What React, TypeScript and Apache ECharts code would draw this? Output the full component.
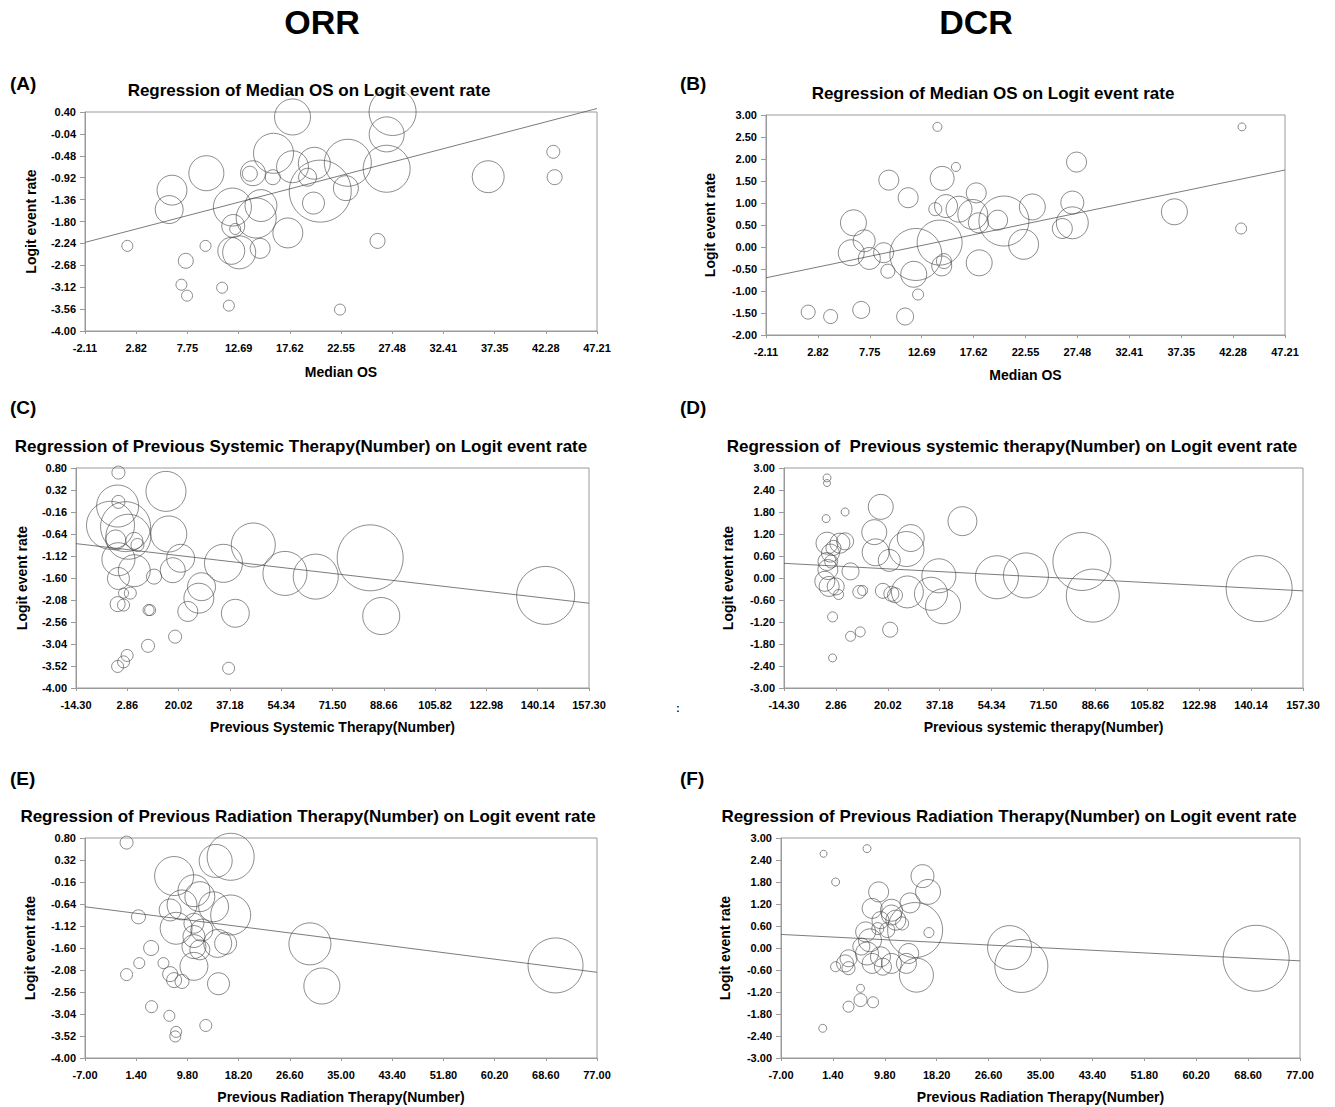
import React, { useEffect, useRef } from "react";
import * as echarts from "echarts";

const FONT = "'Liberation Sans', Arial, Helvetica, sans-serif";

// ---------- tick labels ----------
const xTicksOS = [-2.11, 2.82, 7.75, 12.69, 17.62, 22.55, 27.48, 32.41, 37.35, 42.28, 47.21];
const xTicksSys = [-14.3, 2.86, 20.02, 37.18, 54.34, 71.5, 88.66, 105.82, 122.98, 140.14, 157.3];
const xTicksRad = [-7, 1.4, 9.8, 18.2, 26.6, 35, 43.4, 51.8, 60.2, 68.6, 77];
const yTicksORR_A = [-4, -3.56, -3.12, -2.68, -2.24, -1.8, -1.36, -0.92, -0.48, -0.04, 0.4];
const yTicksORR = [-4, -3.52, -3.04, -2.56, -2.08, -1.6, -1.12, -0.64, -0.16, 0.32, 0.8];
const yTicksDCR_B = [-2, -1.5, -1, -0.5, 0, 0.5, 1, 1.5, 2, 2.5, 3];
const yTicksDCR = [-3, -2.4, -1.8, -1.2, -0.6, 0, 0.6, 1.2, 1.8, 2.4, 3];

// ---------- Panel A: ORR vs Median OS ----------
const aX = [1.97, 7.6, 7.18, 7.72, 9.5, 11.1, 11.75, 12.36, 22.45, 26.07, 43.0, 43.13, 36.73, 6.27, 6.0, 9.58, 12.09, 12.17, 11.98, 12.74, 14.38, 14.84, 14.76, 14.07, 13.77, 15.98, 16.05, 17.88, 17.88, 17.43, 19.33, 19.98, 19.9, 20.55, 23.02, 23.21, 26.95, 26.95, 27.52];
const aY = [-2.29, -2.59, -3.07, -3.29, -2.29, -3.13, -3.49, -1.95, -3.57, -2.19, -0.4, -0.91, -0.9, -1.17, -1.56, -0.83, -1.51, -1.89, -2.39, -2.42, -1.73, -1.48, -2.34, -0.83, -0.84, -0.91, -0.43, 0.3, -0.7, -2.03, -0.91, -0.63, -1.43, -1.19, -1.13, -0.62, -0.74, -0.05, 0.4];
const aW = [11, 15, 11, 11, 11, 11, 11, 11, 11, 15, 13, 15, 32, 30, 28, 35, 38, 23, 27, 33, 40, 32, 20, 25, 15, 15, 40, 36, 32, 30, 18, 32, 22, 62, 25, 47, 47, 35, 47];
const aLine = [[-2.11, -2.22], [47.21, 0.47]];

// ---------- Panel B: DCR vs Median OS ----------
const bX = [14.18, 43.12, 15.94, 27.4, 9.56, 14.63, 11.4, 17.87, 15.0, 13.98, 36.7, 27.0, 27.0, 26.05, 23.2, 20.5, 19.9, 17.54, 18.07, 16.23, 22.37, 18.15, 6.2, 7.22, 5.99, 7.71, 9.07, 9.47, 12.13, 14.39, 11.93, 14.59, 14.8, 12.34, 1.9, 4.03, 6.94, 11.11, 43.04];
const bY = [2.73, 2.73, 1.82, 1.93, 1.52, 1.56, 1.12, 1.23, 0.93, 0.86, 0.8, 1.01, 0.55, 0.42, 0.91, 0.59, 0.61, 0.74, 0.55, 0.86, 0.06, -0.36, 0.55, 0.14, -0.13, -0.26, -0.13, -0.55, -0.17, 0.1, -0.62, -0.43, -0.32, -1.08, -1.48, -1.58, -1.43, -1.58, 0.42];
const bW = [9, 8, 9, 20, 20, 24, 20, 20, 23, 13, 26, 23, 32, 20, 26, 50, 20, 30, 20, 26, 30, 26, 26, 22, 26, 22, 20, 14, 52, 45, 26, 20, 15, 11, 14, 14, 17, 17, 11];
const bLine = [[-2.11, -0.7], [47.21, 1.75]];

// ---------- Panel C: ORR vs previous systemic therapy ----------
const cX = [-0.11, 15.8, -0.11, -0.38, -2.76, 2.28, -1.04, 3.2, 5.2, 6.25, 16.73, -0.11, -0.11, 5.2, 11.8, 18.06, 20.7, 35.03, 45.0, 55.6, 65.9, 84.1, 142.8, 87.8, 39.0, 27.7, 26.8, 23.1, 18.85, 9.8, 10.5, 9.97, 3.87, 1.6, -0.38, 1.6, 2.8, 1.6, -0.38, 36.75];
const cY = [0.7, 0.29, 0.06, -0.03, -0.45, -0.48, -0.77, -0.7, -0.79, -0.88, -0.64, -1.19, -1.61, -1.44, -1.57, -1.43, -1.17, -1.28, -0.88, -1.5, -1.57, -1.16, -1.98, -2.43, -2.37, -1.79, -2.04, -2.33, -2.88, -3.08, -2.3, -2.3, -1.93, -1.93, -2.17, -2.19, -3.29, -3.43, -3.53, -3.57];
const cW = [13, 40, 13, 42, 48, 50, 20, 45, 17, 13, 36, 33, 22, 32, 15, 25, 28, 38, 44, 44, 45, 66, 58, 37, 28, 28, 30, 20, 13, 13, 11, 11, 12, 10, 15, 12, 12, 12, 12, 12];
const cLine = [[-14.3, -0.85], [157.3, -2.15]];

// ---------- Panel D: DCR vs previous systemic therapy ----------
const dX = [-0.08, -0.08, -0.37, 5.9, 17.69, 44.7, 15.55, 27.6, 26.2, 16.0, 20.5, 36.9, 56.1, 65.7, 84.2, 87.8, 142.8, 38.3, 34.3, 26.5, 21.2, 18.4, 22.4, 10.6, 11.7, 1.76, 7.7, 10.9, 20.8, 1.76, -0.08, 1.05, 4.18, 5.9, 2.05, -0.08, 0.2, -0.8, 0.63, 2.8, 3.75, 7.7, 1.3];
const dY = [2.73, 2.59, 1.62, 1.8, 1.94, 1.55, 1.25, 1.09, 0.79, 0.7, 0.48, 0.06, 0.02, 0.07, 0.45, -0.48, -0.29, -0.77, -0.43, -0.38, -0.43, -0.35, -0.47, -0.38, -0.34, -1.06, -1.59, -1.47, -1.41, -2.18, 0.95, 0.68, 0.95, 1.0, 0.82, 0.45, 0.23, -0.09, -0.23, -0.23, -0.45, 0.18, 0.45];
const dW = [8, 7, 8, 8, 25, 29, 25, 27, 35, 27, 22, 34, 43, 45, 58, 53, 66, 35, 33, 32, 15, 15, 15, 13, 10, 10, 10, 10, 15, 8, 22, 18, 20, 17, 15, 18, 20, 20, 20, 17, 10, 17, 13];
const dLine = [[-14.3, 0.4], [157.3, -0.35]];

// ---------- Panel E: ORR vs previous radiation therapy ----------
const eX = [-0.18, 16.9, 14.44, 7.62, 10.87, 11.84, 8.92, 6.97, 16.9, 14.1, 1.77, 7.95, 10.87, 12.17, 10.87, 10.87, 11.84, 14.77, 16.07, 29.9, 70.2, 31.86, 14.9, 10.87, 3.85, 1.9, -0.18, 5.87, 6.97, 7.62, 8.92, 3.92, 6.84, 12.82, 7.95, 7.81];
const eY = [0.7, 0.39, 0.3, -0.03, -0.35, -0.48, -0.66, -0.77, -0.88, -0.7, -0.92, -1.17, -1.06, -1.21, -1.35, -1.57, -1.64, -1.5, -1.5, -1.51, -1.98, -2.43, -2.38, -2.0, -1.6, -1.93, -2.18, -1.93, -2.17, -2.3, -2.33, -2.88, -3.08, -3.29, -3.43, -3.53];
const eW = [13, 47, 33, 39, 32, 30, 30, 22, 40, 30, 14, 32, 20, 22, 22, 24, 20, 28, 22, 42, 55, 36, 22, 28, 15, 11, 12, 11, 15, 15, 14, 12, 11, 12, 11, 11];
const eLine = [[-7, -0.7], [77, -2.13]];

// ---------- Panel F: DCR vs previous radiation therapy ----------
const fX = [-0.11, 6.92, 1.84, -0.25, 15.9, 16.8, 8.8, 13.88, 7.75, 10.88, 10.88, 14.71, 16.94, 30.0, 31.9, 69.9, 14.92, 13.3, 10.88, 7.75, 6.92, 9.1, 3.93, 3.37, 1.84, 3.93, 5.87, 5.87, 3.93, 7.9, 6.7, 7.4, 6.0, 9.1, 10.2, 11.58, 12.6, 8.66, 13.67, 9.5];
const fY = [2.57, 2.71, 1.8, -2.19, 1.96, 1.53, 1.53, 1.23, 1.08, 1.03, 0.9, 0.49, 0.42, 0.01, -0.49, -0.28, -0.74, -0.42, -0.42, -0.42, -0.15, -0.24, -0.28, -0.42, -0.51, -0.55, -1.1, -1.42, -1.6, -1.48, 0.44, 0.21, 0.04, 0.76, 0.49, 0.76, 0.67, 0.53, -0.15, -0.51];
const fW = [7, 8, 8, 8, 23, 25, 20, 20, 20, 22, 20, 55, 10, 44, 53, 66, 34, 20, 20, 20, 23, 20, 17, 17, 10, 13, 8, 13, 11, 11, 20, 23, 17, 17, 15, 20, 13, 12, 20, 17];
const fLine = [[-7, 0.37], [77, -0.35]];

const fmt = (v: number) => (Math.abs(v) < 1e-9 ? 0 : v).toFixed(2);

const AXIS_COLOR = "#9a9a9a";
const CIRCLE_COLOR = "#4a4a4a";

const panels = [
  { grid: { left: 85, top: 112, width: 512, height: 219 }, xt: xTicksOS, yt: yTicksORR_A, xs: aX, ys: aY, ws: aW, line: aLine, xName: "Median OS", xGap: 34, yGap: 47 },
  { grid: { left: 766, top: 115, width: 519, height: 220 }, xt: xTicksOS, yt: yTicksDCR_B, xs: bX, ys: bY, ws: bW, line: bLine, xName: "Median OS", xGap: 33, yGap: 49 },
  { grid: { left: 76, top: 468, width: 513, height: 220 }, xt: xTicksSys, yt: yTicksORR, xs: cX, ys: cY, ws: cW, line: cLine, xName: "Previous Systemic Therapy(Number)", xGap: 32, yGap: 47 },
  { grid: { left: 784, top: 468, width: 519, height: 220 }, xt: xTicksSys, yt: yTicksDCR, xs: dX, ys: dY, ws: dW, line: dLine, xName: "Previous systemic therapy(Number)", xGap: 32, yGap: 49 },
  { grid: { left: 85, top: 838, width: 512, height: 220 }, xt: xTicksRad, yt: yTicksORR, xs: eX, ys: eY, ws: eW, line: eLine, xName: "Previous Radiation Therapy(Number)", xGap: 32, yGap: 48 },
  { grid: { left: 781, top: 838, width: 519, height: 220 }, xt: xTicksRad, yt: yTicksDCR, xs: fX, ys: fY, ws: fW, line: fLine, xName: "Previous Radiation Therapy(Number)", xGap: 32, yGap: 49 },
];

const texts = [
  { t: "ORR", x: 322, y: 22, size: 34, align: "center" },
  { t: "DCR", x: 976, y: 22, size: 34, align: "center" },
  { t: "(A)", x: 10, y: 83, size: 19, align: "left" },
  { t: "(B)", x: 680, y: 83, size: 19, align: "left" },
  { t: "(C)", x: 10, y: 407, size: 19, align: "left" },
  { t: "(D)", x: 680, y: 407, size: 19, align: "left" },
  { t: "(E)", x: 10, y: 778, size: 19, align: "left" },
  { t: "(F)", x: 680, y: 778, size: 19, align: "left" },
  { t: "Regression of Median OS on Logit event rate", x: 309, y: 90, size: 17, align: "center" },
  { t: "Regression of Median OS on Logit event rate", x: 993, y: 93, size: 17, align: "center" },
  { t: "Regression of Previous Systemic Therapy(Number) on Logit event rate", x: 301, y: 446, size: 17, align: "center" },
  { t: "Regression of  Previous systemic therapy(Number) on Logit event rate", x: 1012, y: 446, size: 17, align: "center" },
  { t: "Regression of Previous Radiation Therapy(Number) on Logit event rate", x: 308, y: 816, size: 17, align: "center" },
  { t: "Regression of Previous Radiation Therapy(Number) on Logit event rate", x: 1009, y: 816, size: 17, align: "center" },
  { t: ":", x: 678, y: 708, size: 10, align: "center" },
];

export default function App() {
  const ref = useRef<HTMLDivElement>(null);
  useEffect(() => {
    if (!ref.current) return;
    const chart = echarts.init(ref.current, undefined, { renderer: "svg" });
    const grids: any[] = [];
    const xAxes: any[] = [];
    const yAxes: any[] = [];
    const series: any[] = [];
    panels.forEach((p, i) => {
      grids.push({ ...p.grid, show: true, borderColor: AXIS_COLOR, borderWidth: 1, backgroundColor: "transparent", containLabel: false });
      xAxes.push({
        gridIndex: i,
        type: "value",
        position: "bottom",
        min: p.xt[0],
        max: p.xt[p.xt.length - 1],
        name: p.xName,
        nameLocation: "middle",
        nameGap: p.xGap,
        nameTextStyle: { fontSize: 14, fontWeight: "bold", color: "#000", fontFamily: FONT },
        axisLine: { show: true, onZero: false, lineStyle: { color: AXIS_COLOR, width: 1 } },
        axisTick: { show: true, length: 3, lineStyle: { color: AXIS_COLOR }, customValues: p.xt },
        axisLabel: { customValues: p.xt, formatter: fmt, fontSize: 11, fontWeight: "bold", color: "#000", margin: 11, fontFamily: FONT },
        splitLine: { show: false },
      });
      yAxes.push({
        gridIndex: i,
        type: "value",
        position: "left",
        min: p.yt[0],
        max: p.yt[p.yt.length - 1],
        name: "Logit event rate",
        nameLocation: "middle",
        nameGap: p.yGap,
        nameTextStyle: { fontSize: 14, fontWeight: "bold", color: "#000", fontFamily: FONT },
        axisLine: { show: true, onZero: false, lineStyle: { color: AXIS_COLOR, width: 1 } },
        axisTick: { show: true, length: 5, lineStyle: { color: AXIS_COLOR }, customValues: p.yt },
        axisLabel: { customValues: p.yt, formatter: fmt, fontSize: 11, fontWeight: "bold", color: "#000", margin: 9, fontFamily: FONT },
        splitLine: { show: false },
      });
      series.push({
        type: "scatter",
        xAxisIndex: i,
        yAxisIndex: i,
        clip: false,
        symbol: "circle",
        symbolSize: (val: number[]) => val[2],
        data: p.xs.map((x, k) => [x, p.ys[k], p.ws[k]]),
        itemStyle: { color: "rgba(0,0,0,0)", borderColor: CIRCLE_COLOR, borderWidth: 0.8 },
        emphasis: { disabled: true },
        z: 3,
      });
      series.push({
        type: "line",
        xAxisIndex: i,
        yAxisIndex: i,
        clip: false,
        showSymbol: false,
        symbol: "none",
        data: p.line,
        lineStyle: { color: "#5a5a5a", width: 0.8 },
        emphasis: { disabled: true },
        silent: true,
        z: 2,
      });
    });
    chart.setOption({
      animation: false,
      backgroundColor: "#fff",
      textStyle: { fontFamily: FONT },
      grid: grids,
      xAxis: xAxes,
      yAxis: yAxes,
      series,
      graphic: texts.map((t) => ({
        type: "text",
        x: t.x,
        y: t.y,
        style: {
          text: t.t,
          fill: "#000",
          fontSize: t.size,
          fontWeight: "bold",
          fontFamily: FONT,
          align: t.align,
          verticalAlign: "middle",
        },
      })),
    });
    return () => chart.dispose();
  }, []);
  return (
    <div
      ref={ref}
      style={{ position: "absolute", left: 0, top: 0, width: 1335, height: 1107, background: "#fff" }}
    />
  );
}
